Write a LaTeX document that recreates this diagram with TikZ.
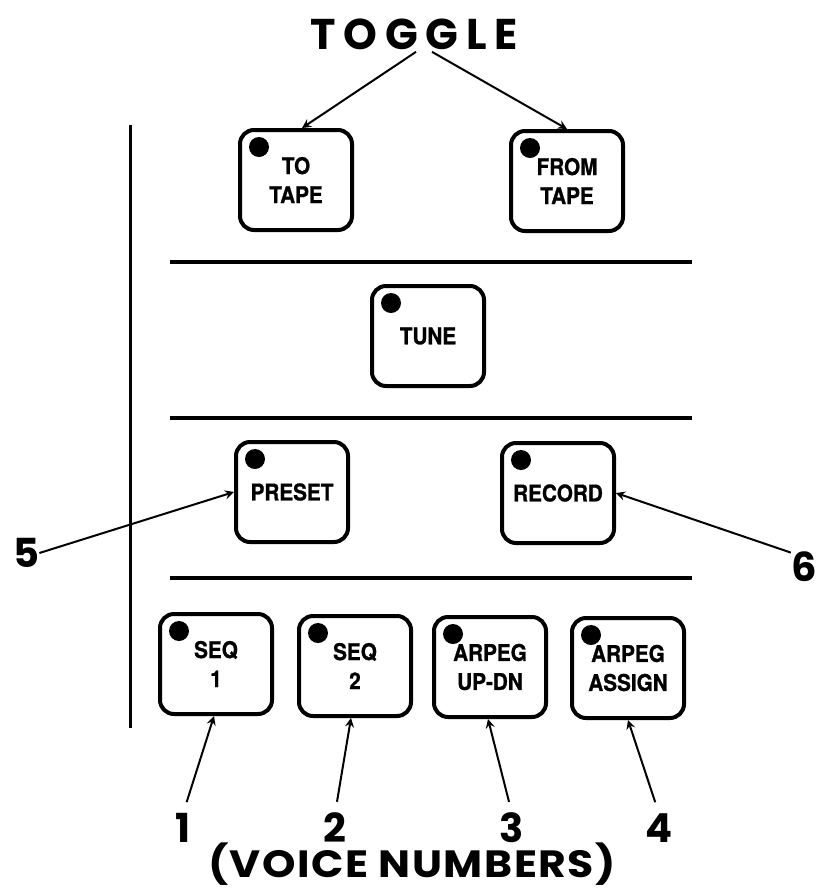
\documentclass[tikz,border=0pt]{standalone}
\usepackage{fontspec}
\setmainfont{TeX Gyre Heros}
\newfontfamily\keyfont[FakeStretch=0.9,FakeBold=1]{TeX Gyre Heros}
\newfontfamily\markfont{Poppins}
\usetikzlibrary{arrows,positioning}

\begin{document}
\begin{tikzpicture}[x=0.5pt,y=-0.5pt,arrow/.style = {line width=1pt,-stealth}]
		\tikzset{key/.style={draw,rectangle,rounded corners=7pt,line width=2pt,minimum width=56pt,minimum height=50pt,inner sep=0pt,align=center,font=\keyfont\bfseries\fontsize{11.5}{14.5}\selectfont}}
		\tikzset{numlabel/.style={inner sep=0pt,text height=14pt,text depth=0pt,font=\markfont\bfseries\fontsize{20}{22}\selectfont}}
		\useasboundingbox (0,0) rectangle (821,890);

		\node[inner sep=1pt, font=\markfont\bfseries\fontsize{21.5}{23}\selectfont\addfontfeature{LetterSpace=18}] (toggle) at (414,34) {TOGGLE};

		\node[key] (totape) at (296,180) {TO\\TAPE};
		\node[key] (fromtape) at (567,181) {FROM\\TAPE};
		\node[key] (tune) at (428,336) {TUNE};
		\node[key] (preset) at (292,492) {PRESET};
		\node[key] (record) at (558,493) {RECORD};
		\node[key] (seq1) at (216,664) {SEQ\\1};
		\node[key] (seq2) at (355,666) {SEQ\\2};
		\node[key] (updn) at (490,667) {ARPEG\\UP-DN};
		\node[key] (assign) at (628,668) {ARPEG\\ASSIGN};

		\foreach \b in {totape,fromtape,tune,preset,record,seq1,seq2,updn,assign}
			\fill ([shift={(21,19)}]\b.north west) circle (5pt);

		\draw[line width=1.5pt] (130,125) -- (130,728);
		\foreach \y in {262,418,578}
			\draw[line width=2pt] (170,\y) -- (692,\y);

		\draw [arrow] ([xshift=1pt]toggle.south) -- ([xshift=3pt]totape.north);
		\draw [arrow] ([xshift=9pt]toggle.south) -- (fromtape.north);

		\node[numlabel] (n5) at (26,553) {5};
		\node[numlabel] (n6) at (804,567) {6};
		\draw [arrow] (n5.east) -- (preset.west);
		\draw [arrow] (n6.north west) -- (record.east);

		\node[numlabel] (n1) at (183,828) {1};
		\node[numlabel] (n2) at (335,828) {2};
		\node[numlabel] (n3) at (512,828) {3};
		\node[numlabel] (n4) at (659,828) {4};
		\node[numlabel, text height=13pt, font=\markfont\bfseries\fontsize{19}{21}\selectfont\addfontfeature{FakeStretch=1.12,LetterSpace=4}] (voices) at (412,864) {(VOICE NUMBERS)};

		\draw [arrow, shorten <=6pt] (n1.north) -- ([xshift=-1pt]seq1.south);
		\draw [arrow, shorten <=6pt] (n2.north) -- ([xshift=-2pt]seq2.south);
		\draw [arrow, shorten <=6pt] (n3.north) -- ([xshift=-1pt]updn.south);
		\draw [arrow, shorten <=6pt] (n4.north) -- (assign.south);
	\end{tikzpicture}
\end{document}
